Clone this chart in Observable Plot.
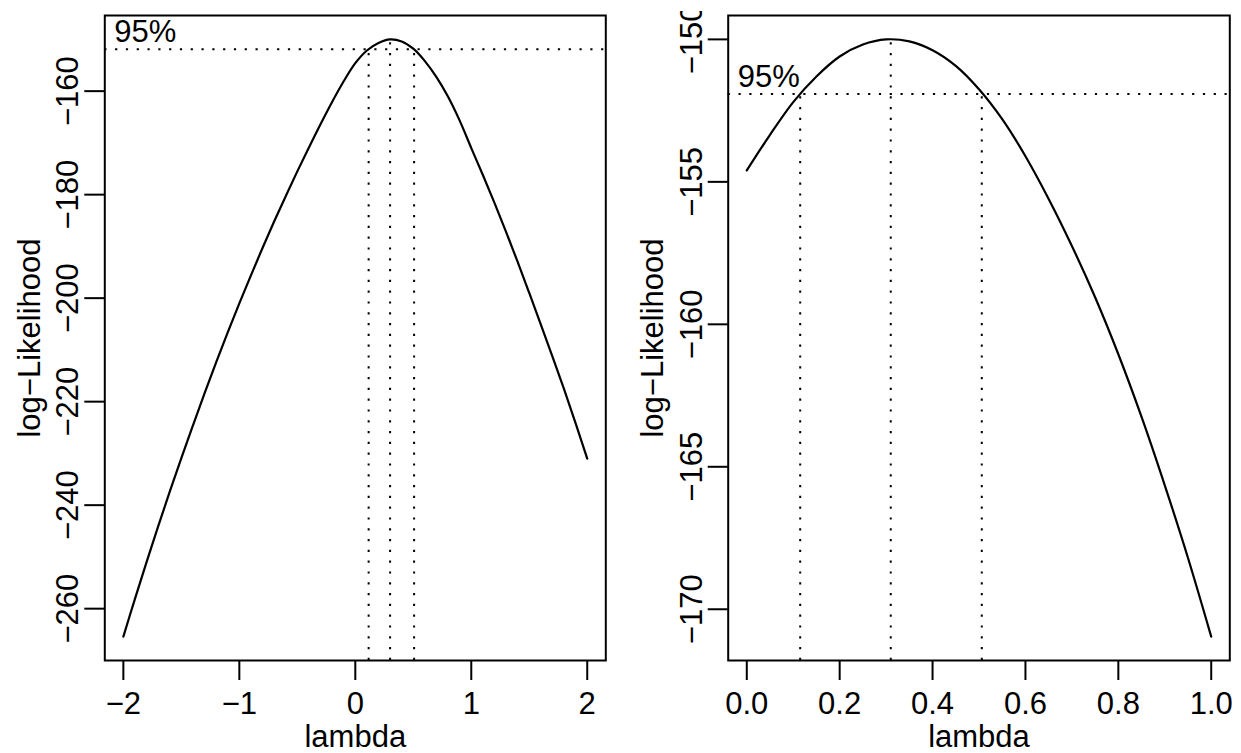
<!DOCTYPE html>
<html>
<head>
<meta charset="utf-8">
<script src="https://cdn.jsdelivr.net/npm/d3@7"></script>
<script src="https://cdn.jsdelivr.net/npm/@observablehq/plot@0.6"></script>
<style>
  html, body { margin: 0; padding: 0; background: #ffffff; }
  #wrap { display: flex; flex-direction: row; width: 1241px; height: 753px; overflow: hidden; }
  #wrap svg { display: block; }
</style>
</head>
<body>
<div id="wrap"></div>
<script>
// ---- Left panel: lambda = seq(-2, 2, 0.1)
const lambdaLeft = [-2.0, -1.9, -1.8, -1.7, -1.6, -1.5, -1.4, -1.3, -1.2, -1.1,
  -1.0, -0.9, -0.8, -0.7, -0.6, -0.5, -0.4, -0.3, -0.2, -0.1,
  0.0, 0.1, 0.2, 0.3, 0.4, 0.5, 0.6, 0.7, 0.8, 0.9,
  1.0, 1.1, 1.2, 1.3, 1.4, 1.5, 1.6, 1.7, 1.8, 1.9, 2.0];
const logLikLeft = [-265.4, -258.1, -251.0, -244.1, -237.4, -230.9, -224.6, -218.4, -212.4, -206.6,
  -201.0, -195.6, -190.3, -185.2, -180.3, -175.5, -170.9, -166.4, -162.1, -158.1,
  -154.6, -152.15, -150.7, -150.0, -150.4, -151.8, -154.2, -157.3, -161.1, -165.7,
  -171.0, -176.2, -181.6, -187.2, -193.0, -199.0, -205.1, -211.3, -217.6, -224.2, -231.0];
const ciLeft = [0.115, 0.507];
const peakLeft = 0.3;

// ---- Right panel: lambda = seq(0, 1, 0.05)
const lambdaRight = [0.00, 0.05, 0.10, 0.15, 0.20, 0.25, 0.30, 0.35, 0.40, 0.45,
  0.50, 0.55, 0.60, 0.65, 0.70, 0.75, 0.80, 0.85, 0.90, 0.95, 1.00];
const logLikRight = [-154.6, -153.35, -152.2, -151.3, -150.6, -150.18, -150.0, -150.07, -150.38, -150.93,
  -151.75, -152.8, -154.1, -155.6, -157.25, -159.05, -161.05, -163.25, -165.65, -168.2, -170.96];
const ciRight = [0.115, 0.506];
const peakRight = 0.31;

// 95% limit line: max(loglik) - qchisq(0.95,1)/2
const lim95 = -151.92;

// tick values / labels
const xTicksLeft = [-2, -1, 0, 1, 2];
const yTicksLeft = [-260, -240, -220, -200, -180, -160];
const xTicksRight = [0, 0.2, 0.4, 0.6, 0.8, 1.0];
const yTicksRight = [-170, -165, -160, -155, -150];

const xLabel = "lambda";
const yLabel = "log\u2212Likelihood";
const ciText = "95%";

const FONT = "Liberation Sans, Arial, Helvetica, sans-serif";
const FS = 31;
const minus = (s) => s.replace("-", "\u2212");

function ext(arr) {
  const lo = d3.min(arr), hi = d3.max(arr), r = hi - lo;
  return [lo - 0.04 * r, hi + 0.04 * r];
}

function panel({lambda, loglik, ci, peak, xTicks, yTicks, xFmt, width, marginLeft, marginRight}) {
  const xDom = ext(lambda);
  const yDom = ext(loglik);
  const rows = lambda.map((l, i) => ({l, v: loglik[i]}));
  const maxV = d3.max(loglik);
  const vlines = [
    {x: ci[0], top: lim95},
    {x: peak, top: maxV},
    {x: ci[1], top: lim95}
  ];
  const dots = "2.2,8.6";
  return Plot.plot({
    width, height: 753,
    marginLeft, marginRight, marginTop: 15, marginBottom: 93,
    style: {fontFamily: FONT, fontSize: FS + "px", color: "black", background: "white"},
    x: {domain: xDom},
    y: {domain: yDom},
    marks: [
      Plot.ruleY([lim95], {stroke: "black", strokeWidth: 2, strokeDasharray: dots}),
      Plot.ruleX(vlines, {x: "x", y1: yDom[0], y2: "top", stroke: "black", strokeWidth: 2, strokeDasharray: dots}),
      Plot.line(rows, {x: "l", y: "v", stroke: "black", strokeWidth: 2.2, curve: "catmull-rom"}),
      Plot.text([ciText], {x: lambda[0], y: lim95, text: d => d, textAnchor: "start", lineAnchor: "bottom",
        dx: -9, dy: -7, fontSize: FS, fill: "black"}),
      Plot.frame({stroke: "black", strokeWidth: 2}),
      Plot.axisX(xTicks, {anchor: "bottom", tickSize: 20, tickPadding: 11.7, strokeWidth: 2,
        tickFormat: xFmt, fontSize: FS, label: null, fill: "black", stroke: "black"}),
      Plot.axisY(yTicks, {anchor: "left", tickSize: 20, tickPadding: 6.4, tickRotate: -90, strokeWidth: 2,
        tickFormat: d => minus(String(d)), fontSize: FS, label: null, fill: "black", stroke: "black"}),
      Plot.text([xLabel], {frameAnchor: "bottom", text: d => d, lineAnchor: "bottom", dy: 86, fontSize: FS, fill: "black"}),
      Plot.text([yLabel], {frameAnchor: "left", text: d => d, rotate: -90, textAnchor: "middle", lineAnchor: "bottom",
        dx: -65, fontSize: FS, fill: "black"})
    ]
  });
}

const wrap = document.getElementById("wrap");
wrap.appendChild(panel({
  lambda: lambdaLeft, loglik: logLikLeft, ci: ciLeft, peak: peakLeft,
  xTicks: xTicksLeft, yTicks: yTicksLeft, xFmt: d => minus(String(d)),
  width: 620, marginLeft: 104.3, marginRight: 14.7
}));
const right = panel({
  lambda: lambdaRight, loglik: logLikRight, ci: ciRight, peak: peakRight,
  xTicks: xTicksRight, yTicks: yTicksRight, xFmt: d => d.toFixed(1),
  width: 621, marginLeft: 107.7, marginRight: 11.7
});
// R clips the top tick label of the right panel at its figure region edge
right.style.clipPath = "inset(11px 0 0 0)";
wrap.appendChild(right);
</script>
</body>
</html>
